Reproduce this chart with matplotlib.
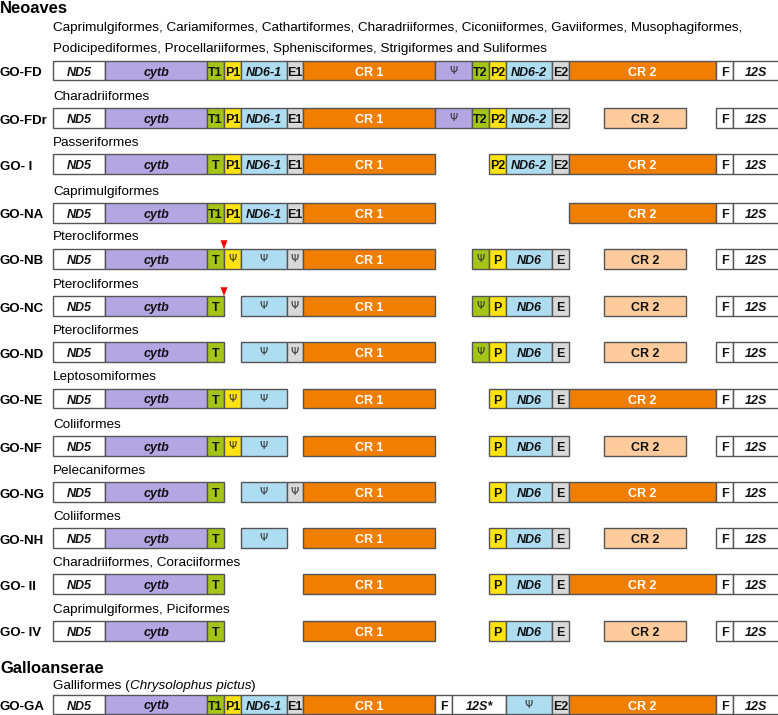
import matplotlib
matplotlib.use("Agg")
import matplotlib.pyplot as plt
from matplotlib.patches import Rectangle, Polygon

plt.rcParams['font.family'] = ['Liberation Sans', 'DejaVu Sans']

# ---------------- data ----------------
row_names = ["GO-FD", "GO-FDr", "GO- I", "GO-NA", "GO-NB", "GO-NC", "GO-ND",
             "GO-NE", "GO-NF", "GO-NG", "GO-NH", "GO- II", "GO- IV", "GO-GA"]
row_taxa = [
    "Caprimulgiformes, Cariamiformes, Cathartiformes, Charadriiformes, Ciconiiformes, Gaviiformes, Musophagiformes,\nPodicipediformes, Procellariiformes, Sphenisciformes, Strigiformes and Suliformes",
    "Charadriiformes", "Passeriformes", "Caprimulgiformes", "Pterocliformes",
    "Pterocliformes", "Pterocliformes", "Leptosomiformes", "Coliiformes",
    "Pelecaniformes", "Coliiformes", "Charadriiformes, Coraciiformes",
    "Caprimulgiformes, Piciformes", None,
]
# each gene block: (slot, label, colour-key)
row_genes = [
    [("ND5","ND5","w"),("cytb","cytb","pu"),("T","T1","g"),("P1","P1","y"),("ND6-1","ND6-1","b"),("E1","E1","gr"),("CR1","CR 1","o"),
     ("X","ψ","pu"),("T2","T2","g"),("P2","P2","y"),("ND6-2","ND6-2","b"),("E2","E2","gr"),("CR2","CR 2","o"),("F","F","w"),("12S","12S","w")],
    [("ND5","ND5","w"),("cytb","cytb","pu"),("T","T1","g"),("P1","P1","y"),("ND6-1","ND6-1","b"),("E1","E1","gr"),("CR1","CR 1","o"),
     ("X","ψ","pu"),("T2","T2","g"),("P2","P2","y"),("ND6-2","ND6-2","b"),("E2","E2","gr"),("CR2p","CR 2","pa"),("F","F","w"),("12S","12S","w")],
    [("ND5","ND5","w"),("cytb","cytb","pu"),("T","T","g"),("P1","P1","y"),("ND6-1","ND6-1","b"),("E1","E1","gr"),("CR1","CR 1","o"),
     ("P2","P2","y"),("ND6-2","ND6-2","b"),("E2","E2","gr"),("CR2","CR 2","o"),("F","F","w"),("12S","12S","w")],
    [("ND5","ND5","w"),("cytb","cytb","pu"),("T","T1","g"),("P1","P1","y"),("ND6-1","ND6-1","b"),("E1","E1","gr"),("CR1","CR 1","o"),
     ("CR2","CR 2","o"),("F","F","w"),("12S","12S","w")],
    [("ND5","ND5","w"),("cytb","cytb","pu"),("T","T","g"),("P1","ψ","y"),("ND6-1","ψ","b"),("E1","ψ","gr"),("CR1","CR 1","o"),
     ("T2","ψ","g"),("P2","P","y"),("ND6-2","ND6","b"),("E2","E","gr"),("CR2p","CR 2","pa"),("F","F","w"),("12S","12S","w")],
    [("ND5","ND5","w"),("cytb","cytb","pu"),("T","T","g"),("ND6-1","ψ","b"),("E1","ψ","gr"),("CR1","CR 1","o"),
     ("T2","ψ","g"),("P2","P","y"),("ND6-2","ND6","b"),("E2","E","gr"),("CR2p","CR 2","pa"),("F","F","w"),("12S","12S","w")],
    [("ND5","ND5","w"),("cytb","cytb","pu"),("T","T","g"),("ND6-1","ψ","b"),("E1","ψ","gr"),("CR1","CR 1","o"),
     ("T2","ψ","g"),("P2","P","y"),("ND6-2","ND6","b"),("E2","E","gr"),("CR2p","CR 2","pa"),("F","F","w"),("12S","12S","w")],
    [("ND5","ND5","w"),("cytb","cytb","pu"),("T","T","g"),("P1","ψ","y"),("ND6-1","ψ","b"),("CR1","CR 1","o"),
     ("P2","P","y"),("ND6-2","ND6","b"),("E2","E","gr"),("CR2","CR 2","o"),("F","F","w"),("12S","12S","w")],
    [("ND5","ND5","w"),("cytb","cytb","pu"),("T","T","g"),("P1","ψ","y"),("ND6-1","ψ","b"),("CR1","CR 1","o"),
     ("P2","P","y"),("ND6-2","ND6","b"),("E2","E","gr"),("CR2p","CR 2","pa"),("F","F","w"),("12S","12S","w")],
    [("ND5","ND5","w"),("cytb","cytb","pu"),("T","T","g"),("ND6-1","ψ","b"),("E1","ψ","gr"),("CR1","CR 1","o"),
     ("P2","P","y"),("ND6-2","ND6","b"),("E2","E","gr"),("CR2","CR 2","o"),("F","F","w"),("12S","12S","w")],
    [("ND5","ND5","w"),("cytb","cytb","pu"),("T","T","g"),("ND6-1","ψ","b"),("CR1","CR 1","o"),
     ("P2","P","y"),("ND6-2","ND6","b"),("E2","E","gr"),("CR2p","CR 2","pa"),("F","F","w"),("12S","12S","w")],
    [("ND5","ND5","w"),("cytb","cytb","pu"),("T","T","g"),("CR1","CR 1","o"),
     ("P2","P","y"),("ND6-2","ND6","b"),("E2","E","gr"),("CR2","CR 2","o"),("F","F","w"),("12S","12S","w")],
    [("ND5","ND5","w"),("cytb","cytb","pu"),("T","T","g"),("CR1","CR 1","o"),
     ("P2","P","y"),("ND6-2","ND6","b"),("E2","E","gr"),("CR2p","CR 2","pa"),("F","F","w"),("12S","12S","w")],
    [("ND5","ND5","w"),("cytb","cytb","pu"),("T","T1","g"),("P1","P1","y"),("ND6-1","ND6-1","b"),("E1","E1","gr"),("CR1","CR 1","o"),
     ("Fx","F","w"),("12Sx","12S*","w"),("ND6-2","ψ","b"),("E2","E2","gr"),("CR2","CR 2","o"),("F","F","w"),("12S","12S","w")],
]
# rows carrying a red arrowhead (breakpoint) after tRNA-Thr
marked_rows = ["GO-NB", "GO-NC"]

# ---------------- layout ----------------
slots = {
    "ND5": (53, 105), "cytb": (105, 207), "T": (207, 224), "P1": (224, 241),
    "ND6-1": (241, 287), "E1": (287, 303), "CR1": (303, 435), "X": (435, 472),
    "T2": (472, 489), "P2": (489, 506), "ND6-2": (506, 552), "E2": (552, 569),
    "CR2": (569, 716), "CR2p": (604, 686), "F": (716, 733), "12S": (733, 800),
    "Fx": (435, 452), "12Sx": (452, 506),
}
row_y = [70.7, 118, 164, 213, 259, 306, 352, 398.5, 446, 492, 538, 584, 631, 704.5]
bar_h = 19.5
colors = {"w": "#ffffff", "pu": "#b3a6e3", "g": "#a5c416", "y": "#ffe30f",
          "b": "#aedcf1", "gr": "#d9d9d9", "o": "#f07e00", "pa": "#fdcb9c"}
italic_labels = {"ND5", "cytb", "ND6-1", "ND6-2", "ND6", "12S", "12S*"}
edge = "#555555"

fig = plt.figure(figsize=(7.78, 7.15), dpi=100)
ax = fig.add_axes([0, 0, 1, 1])
ax.set_xlim(0, 778)
ax.set_ylim(715, 0)
ax.axis("off")

fs_tax = 9.7
fs_row = 9.5
fs_gene = 9.0
for name, taxa, genes, yc in zip(row_names, row_taxa, row_genes, row_y):
    ax.text(0, yc + 1, name, fontsize=fs_row, fontweight="bold", ha="left",
            va="center_baseline")
    if taxa is not None:
        lines = taxa.split("\n")
        for i, ln in enumerate(lines):
            ax.text(53, yc - 23 - 21 * (len(lines) - 1 - i), ln, fontsize=fs_tax,
                    ha="left", va="center_baseline")
    for slot, lab, ck in genes:
        x0, x1 = slots[slot]
        ax.add_patch(Rectangle((x0, yc - bar_h / 2), x1 - x0, bar_h,
                               facecolor=colors[ck], edgecolor=edge, lw=1.0))
        if lab == "ψ":
            ax.text((x0 + x1) / 2, yc, "Ψ", fontsize=7.5, ha="center",
                    va="center", color="#333333", family="DejaVu Sans")
        else:
            col = "white" if ck == "o" else "#111111"
            style = "italic" if lab in italic_labels else "normal"
            xc = (x0 + x1) / 2 if slot != "12S" else (733 + 778) / 2
            ax.text(xc, yc + 0.5, lab, fontsize=fs_gene, fontweight="bold",
                    fontstyle=style, ha="center", va="center_baseline", color=col)
    if name in marked_rows:
        xt = slots["T"][1]
        top = yc - bar_h / 2
        ax.add_patch(Polygon([[xt - 3.5, top - 9], [xt + 3.5, top - 9], [xt, top]],
                             closed=True, facecolor="#ff0000", edgecolor="none"))

ax.text(0, 7, "Neoaves", fontsize=11.9, fontweight="bold", ha="left", va="center_baseline")
ax.text(0, 667, "Galloanserae", fontsize=11.9, fontweight="bold", ha="left", va="center_baseline")

# Galliformes (Chrysolophus pictus) with italic species name
fig.canvas.draw()
r = fig.canvas.get_renderer()
parts = [("Galliformes (", "normal"), ("Chrysolophus pictus", "italic"), (")", "normal")]
xpos = 53
for txt, st in parts:
    t = ax.text(xpos, 684, txt, fontsize=fs_tax, fontstyle=st, ha="left",
                va="center_baseline")
    bb = t.get_window_extent(renderer=r)
    inv = ax.transData.inverted()
    xpos = inv.transform((bb.x1, bb.y0))[0]

fig.savefig("out.png", dpi=100)
